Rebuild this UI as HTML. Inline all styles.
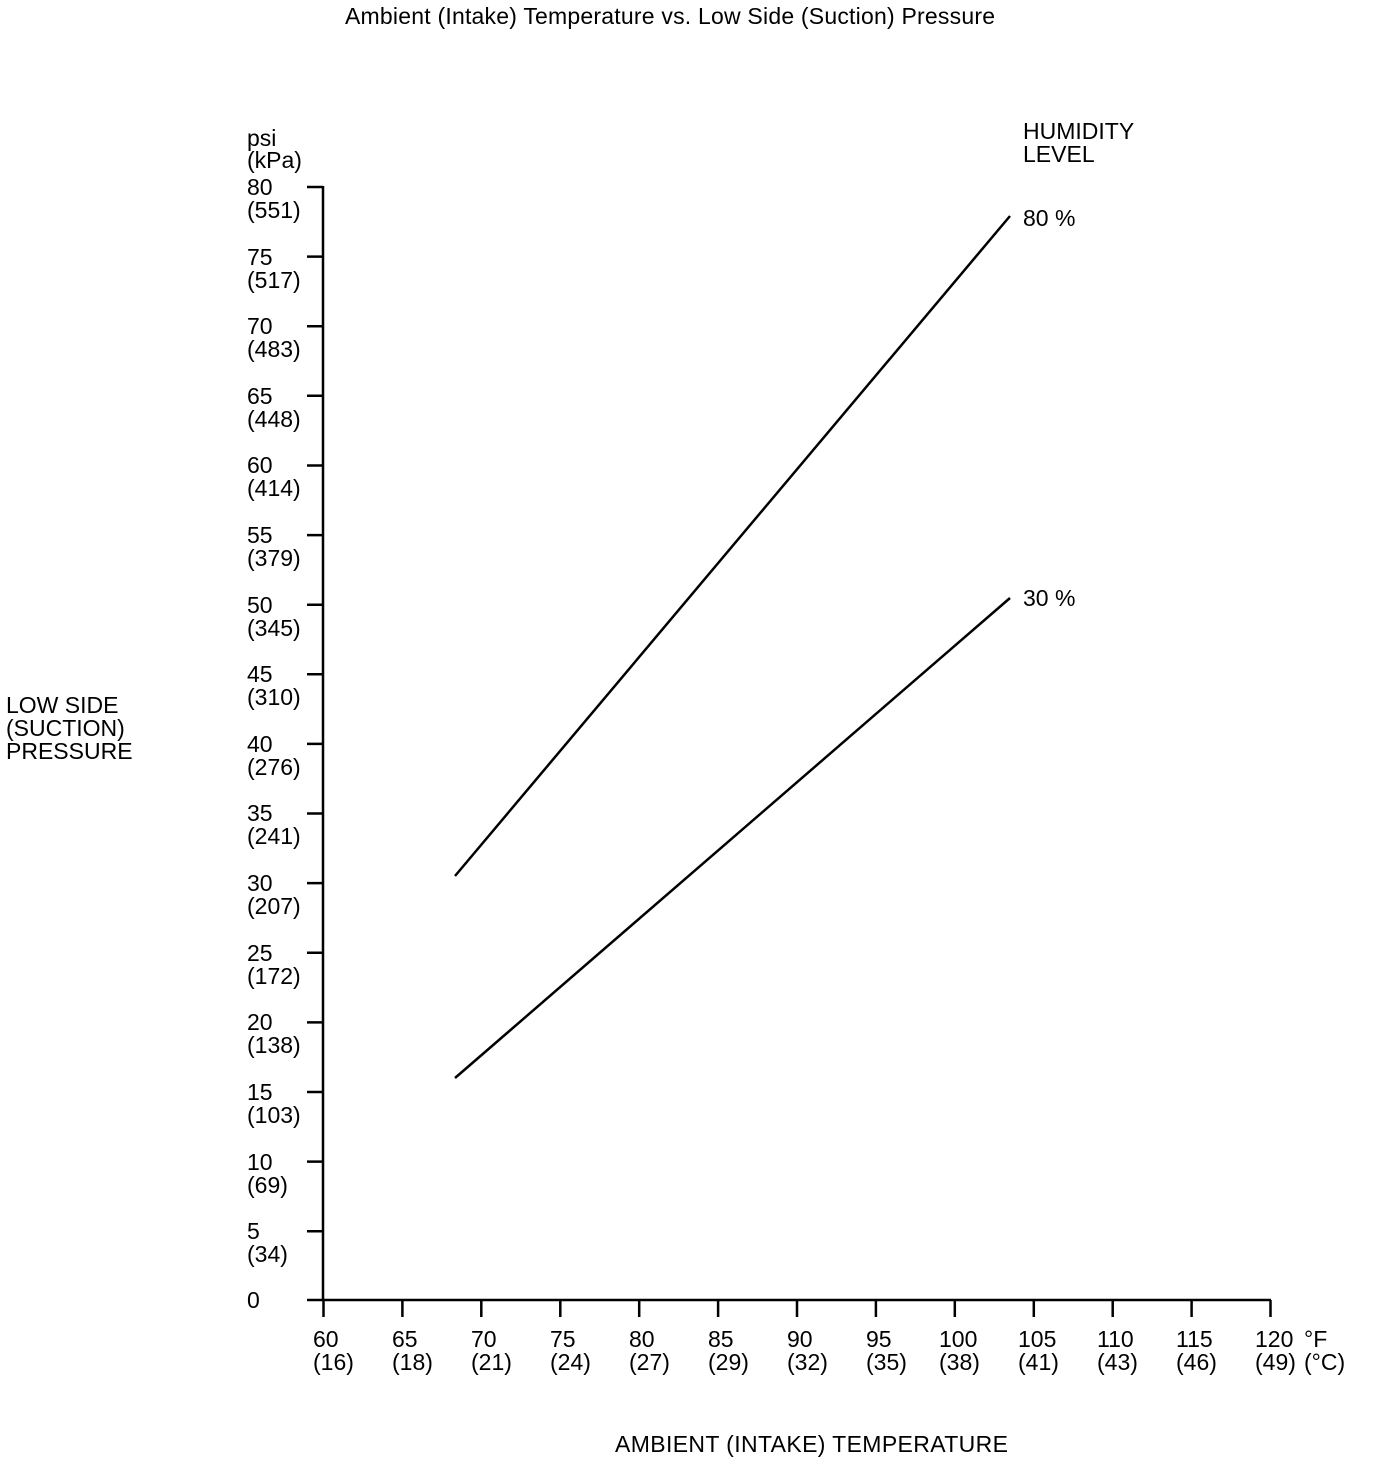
<!DOCTYPE html>
<html><head><meta charset="utf-8"><style>
html,body{margin:0;padding:0;background:#fff;}
svg text{font-family:"Liberation Sans",Arial,sans-serif;font-size:23px;fill:#000;}
</style></head><body>
<svg width="1376" height="1466" xmlns="http://www.w3.org/2000/svg">
<text x="345" y="24" textLength="650">Ambient (Intake) Temperature vs. Low Side (Suction) Pressure</text>
<text x="247" y="146">psi</text>
<text x="247" y="168">(kPa)</text>
<text x="1023" y="139">HUMIDITY</text>
<text x="1023" y="162">LEVEL</text>
<text x="6" y="713">LOW SIDE</text>
<text x="6" y="736">(SUCTION)</text>
<text x="6" y="759">PRESSURE</text>
<text x="615" y="1452" textLength="393">AMBIENT (INTAKE) TEMPERATURE</text>
<g stroke="#000" stroke-width="2.5" fill="none">
<line x1="323" y1="186" x2="323" y2="1300"/>
<line x1="307" y1="1300" x2="1271" y2="1300"/>
<path d="M307,187H323M307,256.6H323M307,326.2H323M307,395.8H323M307,465.5H323M307,535.1H323M307,604.7H323M307,674.3H323M307,743.9H323M307,813.5H323M307,883.1H323M307,952.8H323M307,1022.4H323M307,1092H323M307,1161.6H323M307,1231.2H323"/>
<path d="M323.5,1300V1317M402.4,1300V1317M481.3,1300V1317M560.3,1300V1317M639.2,1300V1317M718.1,1300V1317M797,1300V1317M875.9,1300V1317M954.8,1300V1317M1033.8,1300V1317M1112.7,1300V1317M1191.6,1300V1317M1270.5,1300V1317"/>
<path d="M455,876 Q730,548 1010,216"/>
<path d="M455,1078 L1010,598"/>
</g>
<g>
<text x="247" y="195">80</text><text x="247" y="218">(551)</text>
<text x="247" y="265">75</text><text x="247" y="288">(517)</text>
<text x="247" y="334">70</text><text x="247" y="357">(483)</text>
<text x="247" y="404">65</text><text x="247" y="427">(448)</text>
<text x="247" y="473">60</text><text x="247" y="496">(414)</text>
<text x="247" y="543">55</text><text x="247" y="566">(379)</text>
<text x="247" y="613">50</text><text x="247" y="636">(345)</text>
<text x="247" y="682">45</text><text x="247" y="705">(310)</text>
<text x="247" y="752">40</text><text x="247" y="775">(276)</text>
<text x="247" y="821">35</text><text x="247" y="844">(241)</text>
<text x="247" y="891">30</text><text x="247" y="914">(207)</text>
<text x="247" y="961">25</text><text x="247" y="984">(172)</text>
<text x="247" y="1030">20</text><text x="247" y="1053">(138)</text>
<text x="247" y="1100">15</text><text x="247" y="1123">(103)</text>
<text x="247" y="1170">10</text><text x="247" y="1193">(69)</text>
<text x="247" y="1239">5</text><text x="247" y="1262">(34)</text>
<text x="247" y="1308">0</text>
</g>
<g>
<text x="313" y="1347">60</text><text x="313" y="1370">(16)</text>
<text x="392" y="1347">65</text><text x="392" y="1370">(18)</text>
<text x="471" y="1347">70</text><text x="471" y="1370">(21)</text>
<text x="550" y="1347">75</text><text x="550" y="1370">(24)</text>
<text x="629" y="1347">80</text><text x="629" y="1370">(27)</text>
<text x="708" y="1347">85</text><text x="708" y="1370">(29)</text>
<text x="787" y="1347">90</text><text x="787" y="1370">(32)</text>
<text x="866" y="1347">95</text><text x="866" y="1370">(35)</text>
<text x="939" y="1347">100</text><text x="939" y="1370">(38)</text>
<text x="1018" y="1347">105</text><text x="1018" y="1370">(41)</text>
<text x="1097" y="1347">110</text><text x="1097" y="1370">(43)</text>
<text x="1176" y="1347">115</text><text x="1176" y="1370">(46)</text>
<text x="1255" y="1347">120</text><text x="1255" y="1370">(49)</text>
<text x="1304" y="1347">°F</text><text x="1304" y="1370">(°C)</text>
</g>
<text x="1023" y="226">80 %</text>
<text x="1023" y="606">30 %</text>
</svg>
</body></html>
